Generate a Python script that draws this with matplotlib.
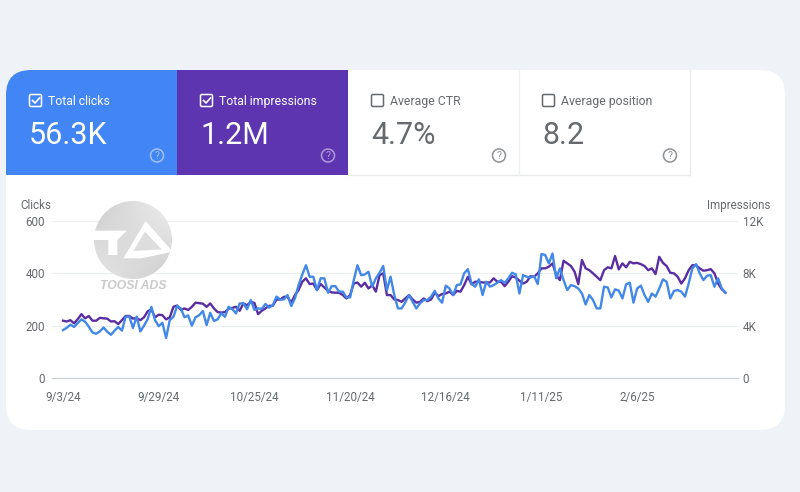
import numpy as np
import pandas as pd
import matplotlib
matplotlib.use("Agg")
import matplotlib.pyplot as plt
from matplotlib.patches import FancyBboxPatch, Rectangle, Circle, Polygon
import matplotlib.dates as mdates

plt.rcParams['font.family'] = ['Roboto', 'DejaVu Sans']

start_date = "2024-09-03"
clicks = [183,192,204,195,210,224,215,196,174,169,178,193,177,165,181,195,181,234,235,191,
          235,178,200,225,272,221,198,211,153,221,234,275,266,232,239,200,232,240,256,202,
          249,218,224,247,234,272,263,247,285,285,263,298,260,266,264,283,269,278,311,300,
          300,317,275,304,355,395,431,387,387,336,381,381,326,351,351,330,330,308,308,374,
          431,393,396,406,349,381,402,428,336,387,317,266,266,289,317,291,266,285,298,298,
          311,333,304,288,353,342,317,355,358,400,416,361,349,377,317,368,349,355,364,374,
          364,381,402,396,323,393,387,384,389,359,474,470,438,476,381,419,374,336,355,351,
          342,323,281,317,298,266,266,349,346,308,339,334,304,358,364,288,342,353,317,291,
          323,311,342,377,368,304,333,336,330,311,361,419,435,400,374,391,393,349,381,342,326]
impressions = [4380,4320,4420,4180,4500,4880,4560,4740,4380,4380,4600,4560,4540,4320,4340,4120,4420,4740,4740,4540,
               4580,4420,4640,5100,5240,4640,4840,4800,4480,4640,5440,5540,5200,5320,5200,5440,5760,5720,5680,5440,
               5700,5320,5040,5000,5040,5300,5360,5440,5140,5700,5560,5820,5740,4880,5140,5320,5520,5520,6000,6000,
               6200,6200,5760,6340,6720,7360,7620,7180,7220,6720,7180,6920,6660,6540,6520,6520,6340,6080,6340,7220,
               7300,6980,7280,6840,7100,6600,7860,8000,6340,6340,6000,5960,5820,6080,6340,6000,5760,5820,6080,5880,
               6000,6520,6260,6420,6460,6600,6340,6660,6600,7100,7740,7160,7360,7360,7300,7300,7300,7620,7360,7360,
               7020,7360,7780,7680,7440,7220,7360,7780,7740,8000,8380,8380,8500,8760,7860,7480,8960,8760,8560,8120,
               7180,9020,8380,8240,8000,7740,7480,8240,8460,8380,9320,8300,8760,8460,8880,8760,8800,8700,8560,8240,
               8380,7940,9260,8800,8560,8040,8000,7740,7220,7620,8240,8620,8620,8380,8200,8240,8320,8000,7220,6780,6520]
left_ticks = [0, 200, 400, 600]
right_ticks = [0, 4000, 8000, 12000]
right_tick_labels = ["0", "4K", "8K", "12K"]
date_ticks = ["2024-09-03", "2024-09-29", "2024-10-25", "2024-11-20", "2024-12-16", "2025-01-11", "2025-02-06"]
date_tick_labels = ["9/3/24", "9/29/24", "10/25/24", "11/20/24", "12/16/24", "1/11/25", "2/6/25"]
tile_titles = ["Total clicks", "Total impressions", "Average CTR", "Average position"]
tile_values = ["56.3K", "1.2M", "4.7%", "8.2"]

W, H = 800, 492
BLUE, PURPLE = "#4285f4", "#5e35b1"
GREY = "#666a6e"
fig = plt.figure(figsize=(W/100, H/100), dpi=100, facecolor="#eff3f8")

# Background: card and tiles, in pixel coordinates
bg = fig.add_axes([0, 0, 1, 1], zorder=0)
bg.set_xlim(0, W); bg.set_ylim(H, 0); bg.axis("off")
card = FancyBboxPatch((6+25, 70+25), 779-50, 360-50, boxstyle="round,pad=25,rounding_size=25",
                      fc="white", ec="none")
bg.add_patch(card)
bg.add_patch(Rectangle((6, 70), 171, 105, fc=BLUE, ec="none", clip_path=card))
bg.add_patch(Rectangle((177, 70), 171, 105, fc=PURPLE, ec="none", clip_path=card))
bg.plot([348, 690], [175, 175], color="#e9ebed", lw=1)
bg.plot([519, 519], [70, 175], color="#eef0f2", lw=1)
bg.plot([690, 690], [70, 175], color="#e9ebed", lw=1)

tile_x = [6, 177, 348, 519]
for k, x0 in enumerate(tile_x):
    active = k < 2
    fg = "white" if active else GREY
    bx = x0 + 23.5
    bg.add_patch(FancyBboxPatch((bx+1, 95.5), 10, 10, boxstyle="round,pad=1,rounding_size=1.5",
                                fc="none", ec=fg, lw=1.1))
    if active:
        bg.plot([bx+3, bx+5.5, bx+10], [100.5, 103, 98], color="white", lw=1.2)
    bg.text(x0+42, 101.5, tile_titles[k], color=fg, fontsize=8.8, va="center", ha="left")
    bg.text(x0+23, 136, tile_values[k], color=fg, fontsize=22, va="center", ha="left")
    ic = "#ffffff" if active else "#70757a"
    bg.add_patch(Circle((x0+151, 155.5), 6.5, fc="none", ec=ic, lw=1.1, alpha=0.5 if active else 0.8))
    bg.text(x0+151, 155.7, "?", color=ic, fontsize=7.5, ha="center", va="center", alpha=0.5 if active else 0.8)

bg.text(20.5, 205.5, "Clicks", color=GREY, fontsize=8.4, va="center", ha="left")
bg.text(771, 205.5, "Impressions", color=GREY, fontsize=8.4, va="center", ha="right")

# Chart
L, R, T, B = 52, 738, 221, 378
ax = fig.add_axes([L/W, 1-B/H, (R-L)/W, (B-T)/H], zorder=2)
ax.patch.set_alpha(0)
dates = pd.date_range(start_date, periods=len(clicks), freq="D")
x0_num = mdates.date2num(pd.Timestamp(start_date))
ax.set_xlim(x0_num-3.0, x0_num+183.4)
ax.set_ylim(0, 600)
ax.set_yticks(left_ticks)
ax.set_xticks(mdates.date2num(pd.to_datetime(date_ticks)))
ax.set_xticklabels(date_tick_labels)
ax.tick_params(axis="both", length=0, labelsize=8.4, labelcolor=GREY)
ax.tick_params(axis="x", pad=9)
ax.tick_params(axis="y", pad=5)
for s in ["top", "left", "right"]:
    ax.spines[s].set_visible(False)
ax.spines["bottom"].set_color("#c8cbcf")
ax.spines["bottom"].set_linewidth(0.8)

ax2 = ax.twinx()
ax2.patch.set_alpha(0)
ax2.set_ylim(0, 12000)
ax2.set_yticks(right_ticks)
ax2.set_yticklabels(right_tick_labels)
ax2.tick_params(axis="y", length=0, labelsize=8.4, labelcolor=GREY, pad=3.5)
ax2.grid(axis="y", color="#eceef0", lw=0.8)
ax2.set_axisbelow(True)
for s in ax2.spines.values():
    s.set_visible(False)
ax.set_zorder(2); ax2.set_zorder(1)
ax.plot(dates, clicks, color="#4188e8", lw=1.7, solid_joinstyle="round", zorder=3)
ax2.plot(dates, impressions, color="#5b2da3", lw=1.7, solid_joinstyle="round", zorder=3)

# Watermark
wm = fig.add_axes([0, 0, 1, 1], zorder=3)
wm.set_xlim(0, W); wm.set_ylim(H, 0); wm.axis("off"); wm.patch.set_alpha(0)
circ = Circle((133, 240), 39, transform=wm.transData, fc="none", ec="none")
wm.add_patch(circ)
yy, xx = np.mgrid[0:1:80j, 0:1:80j]
shade = 0.80 + 0.14*xx*(1-yy) + 0.10*yy*(1-xx)
im = wm.imshow(shade, extent=(94, 172, 279, 201), cmap="gray", vmin=0, vmax=1, aspect="auto", zorder=1)
im.set_clip_path(circ)
wm.set_xlim(0, W); wm.set_ylim(H, 0)
def z(pts):
    return [(80+a/3, 190+b/3) for a, b in pts]
wm.add_patch(Polygon(z([(42,122),(140,122),(112,150),(112,195),(85,195),(85,150),(42,150)]), fc="white", ec="none", zorder=2))
wm.add_patch(Polygon(z([(197,93),(278,185),(185,205),(130,205)]), fc="white", ec="none", zorder=2))
wm.add_patch(Polygon(z([(195,125),(245,178),(160,183)]), fc="#dddddd", ec="none", zorder=3))
wm.text(133, 286, "TOOSI ADS", color="#cacaca", fontsize=8.8, fontweight="bold", fontstyle="italic",
        ha="center", va="center", family=["Liberation Sans", "DejaVu Sans"], zorder=2)

fig.savefig("out.png", dpi=100, facecolor=fig.get_facecolor())
